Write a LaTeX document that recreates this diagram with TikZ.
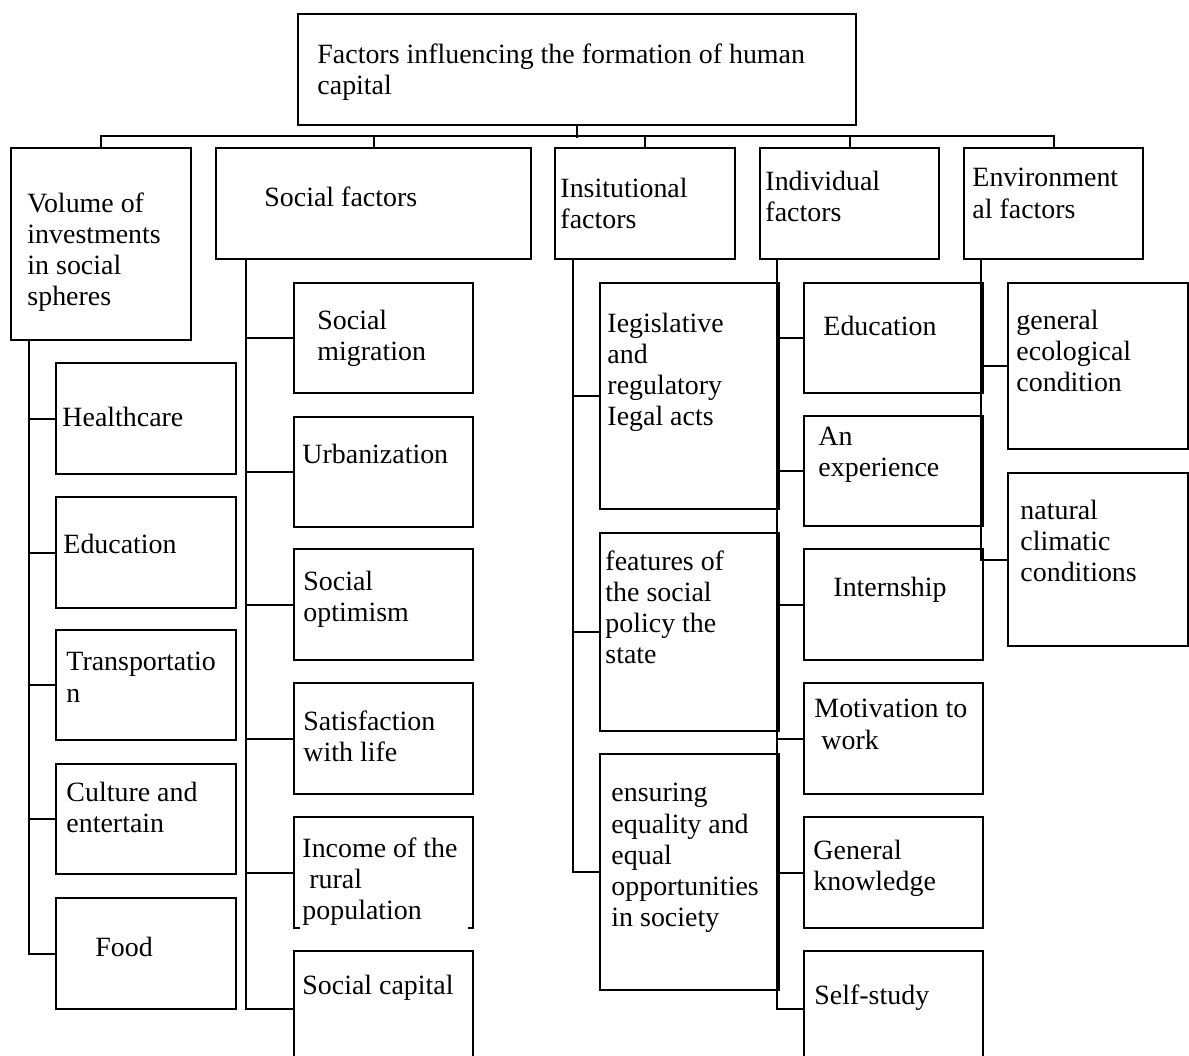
\documentclass[tikz,border=0pt]{standalone}
\usepackage{fontspec}
\setmainfont{Liberation Serif}
\usetikzlibrary{calc}
\newdimen\pxunit
\pxunit=0.43pt
\tikzset{
  box/.style={draw, line width=0.9pt, inner sep=0pt, anchor=north west},
  txt/.style={inner sep=0pt, align=left, anchor=north west, yshift=-1\pxunit,
    font=\fontsize{12}{13.35}\selectfont, execute at begin node=\strut},
  link/.style={line width=0.9pt}
}
\begin{document}
\begin{tikzpicture}[x=\pxunit, y=-\pxunit]
\clip (0,0) rectangle (1189,1055);
% root
\node[box, minimum width=558\pxunit, minimum height=111\pxunit] (root) at (297,13) {};
\node[txt] (root-t) at (317,42) {Factors influencing the formation of human\\capital};
% first level
\node[box, minimum width=180\pxunit, minimum height=192\pxunit] (vol) at (10,147) {};
\node[box, minimum width=315\pxunit, minimum height=111\pxunit] (soc) at (215,147) {};
\node[box, minimum width=180\pxunit, minimum height=111\pxunit] (ins) at (554,147) {};
\node[box, minimum width=179\pxunit, minimum height=111\pxunit] (ind) at (759,147) {};
\node[box, minimum width=179\pxunit, minimum height=111\pxunit] (env) at (963,147) {};
\node[txt] (vol-t) at (27,191) {Volume of\\investments\\in social\\spheres};
\node[txt] (soc-t) at (264,183) {Social factors};
\node[txt] (ins-t) at (560,177) {Insitutional\\factors};
\node[txt] (ind-t) at (765,170) {Individual\\factors};
\node[txt] (env-t) at (972,167) {Environment\\al factors};
\draw[link] (root.south) -- ++(0,12);
\draw[link] (vol.north) -- ++(0,-11) -| (env.north);
\draw[link] (soc.north) -- ++(0,-11);
\draw[link] (ins.north) -- ++(0,-11);
\draw[link] (ind.north) -- ++(0,-11);
% investments
\node[box, minimum width=180\pxunit, minimum height=111\pxunit] (health) at (55,362) {};
\node[box, minimum width=180\pxunit, minimum height=111\pxunit] (educ) at (55,496) {};
\node[box, minimum width=180\pxunit, minimum height=110\pxunit] (transp) at (55,629) {};
\node[box, minimum width=180\pxunit, minimum height=110\pxunit] (culture) at (55,763) {};
\node[box, minimum width=180\pxunit, minimum height=111\pxunit] (food) at (55,897) {};
\node[txt] (health-t) at (62,403) {Healthcare};
\node[txt] (educ-t) at (63,530) {Education};
\node[txt] (transp-t) at (66,651) {Transportatio\\n};
\node[txt] (culture-t) at (66,781) {Culture and\\entertain};
\node[txt] (food-t) at (95,933) {Food};
\coordinate (vol-sp) at ($(vol.south west)+(19,0)$);
\draw[link] (vol-sp) |- (food.west);
\foreach \n in {health,educ,transp,culture}
  \draw[link] (\n.west) -- (\n.west -| vol-sp);
% social
\node[box, minimum width=179\pxunit, minimum height=110\pxunit] (migr) at (293,282) {};
\node[box, minimum width=179\pxunit, minimum height=110\pxunit] (urban) at (293,416) {};
\node[box, minimum width=179\pxunit, minimum height=111\pxunit] (optim) at (293,548) {};
\node[box, minimum width=179\pxunit, minimum height=111\pxunit] (satisf) at (293,682) {};
\node[box, minimum width=179\pxunit, minimum height=111\pxunit] (income) at (293,816) {};
\node[box, minimum width=179\pxunit, minimum height=115\pxunit] (scap) at (293,950) {};
\draw[white, line width=1.6pt] ($(income.south west)+(7,0)$) -- ($(income.south east)+(-6,0)$);
\node[txt] (migr-t) at (317,309) {Social\\migration};
\node[txt] (urban-t) at (302,440) {Urbanization};
\node[txt] (optim-t) at (303,570) {Social\\optimism};
\node[txt] (satisf-t) at (303,709) {Satisfaction\\with life};
\node[txt] (income-t) at (302,836) {Income of the\\\hspace*{0.25em}rural\\population};
\node[txt] (scap-t) at (302,971) {Social capital};
\coordinate (soc-sp) at ($(soc.south west)+(31,0)$);
\draw[link] (soc-sp) |- (scap.west);
\foreach \n in {migr,urban,optim,satisf,income}
  \draw[link] (\n.west) -- (\n.west -| soc-sp);
% institutional
\node[box, minimum width=179\pxunit, minimum height=226\pxunit] (legis) at (599,282) {};
\node[box, minimum width=179\pxunit, minimum height=198\pxunit] (policy) at (599,532) {};
\node[box, minimum width=179\pxunit, minimum height=236\pxunit] (equal) at (599,753) {};
\node[txt] (legis-t) at (607,312) {Iegislative\\and\\regulatory\\Iegal acts};
\node[txt] (policy-t) at (605,549) {features of\\the social\\policy the\\state};
\node[txt] (equal-t) at (611,782) {ensuring\\equality and\\equal\\opportunities\\in society};
\coordinate (ins-sp) at ($(ins.south west)+(19,0)$);
\draw[link] (ins-sp) |- (equal.west);
\foreach \n in {legis,policy}
  \draw[link] (\n.west) -- (\n.west -| ins-sp);
% individual
\node[box, minimum width=179\pxunit, minimum height=110\pxunit] (educi) at (803,282) {};
\node[box, minimum width=179\pxunit, minimum height=110\pxunit] (exper) at (803,415) {};
\node[box, minimum width=179\pxunit, minimum height=111\pxunit] (intern) at (803,548) {};
\node[box, minimum width=179\pxunit, minimum height=111\pxunit] (motiv) at (803,682) {};
\node[box, minimum width=179\pxunit, minimum height=111\pxunit] (knowl) at (803,816) {};
\node[box, minimum width=179\pxunit, minimum height=115\pxunit] (self) at (803,950) {};
\node[txt] (educi-t) at (823,312) {Education};
\node[txt] (exper-t) at (818,426) {An\\experience};
\node[txt] (intern-t) at (833,573) {Internship};
\node[txt] (motiv-t) at (814,698) {Motivation to\\\hspace*{0.25em}work};
\node[txt] (knowl-t) at (813,839) {General\\knowledge};
\node[txt] (self-t) at (814,981) {Self-study};
\coordinate (ind-sp) at ($(ind.south west)+(18,0)$);
\draw[link] (ind-sp) |- (self.west);
\foreach \n in {educi,exper,intern,motiv,knowl}
  \draw[link] (\n.west) -- (\n.west -| ind-sp);
% environmental
\node[box, minimum width=180\pxunit, minimum height=166\pxunit] (ecol) at (1007,282) {};
\node[box, minimum width=180\pxunit, minimum height=173\pxunit] (clim) at (1007,472) {};
\node[txt] (ecol-t) at (1016,309) {general\\ecological\\condition};
\node[txt] (clim-t) at (1020,499) {natural\\climatic\\conditions};
\coordinate (env-sp) at ($(env.south west)+(18,0)$);
\draw[link] (env-sp) |- (clim.west);
\draw[link] (ecol.west) -- (ecol.west -| env-sp);
\end{tikzpicture}
\end{document}
